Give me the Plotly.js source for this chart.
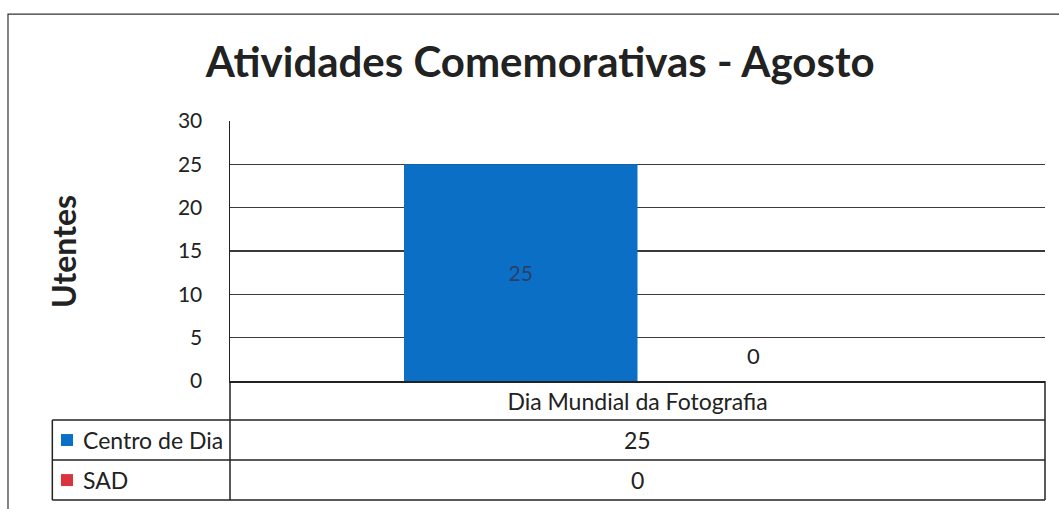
<!DOCTYPE html>
<html>
<head>
<meta charset="utf-8">
<script src="https://cdn.plot.ly/plotly-3.0.1.min.js"></script>
<style>html,body{margin:0;padding:0;background:#fff;}#chart{width:1059px;height:509px;}</style>
</head>
<body>
<div id="chart"></div>
<script>
const categories = ["Dia Mundial da Fotografia"];
const seriesNames = ["Centro de Dia", "SAD"];
const centroDeDia = [25];
const sad = [0];
const seriesColors = ["#0b6fc6", "#d8333f"];
const yTicks = [0, 5, 10, 15, 20, 25, 30];

const FONT = "Lato, 'Liberation Sans', sans-serif";
const seriesValues = [centroDeDia, sad];

const traces = [
  {
    type: "bar", name: seriesNames[0], x: categories, y: centroDeDia,
    marker: {color: seriesColors[0]},
    text: centroDeDia.map(String), textposition: "inside", insidetextanchor: "middle",
    textangle: 0,
    insidetextfont: {family: FONT, size: 21, color: "#2a3f66"},
    hoverinfo: "skip"
  },
  {
    type: "bar", name: seriesNames[1], x: categories, y: sad,
    marker: {color: seriesColors[1]},
    textposition: "none",
    hoverinfo: "skip"
  }
];

// table geometry (paper coordinates)
const rowY = [-0.15, -0.304, -0.458];
const tableLeft = -0.218;
const keyX0 = -0.2074, keyX1 = -0.1926, keyHalfH = 0.023;
const shapes = [
  // outer chart border (right and bottom edges fall outside the picture)
  {type: "rect", xref: "paper", yref: "paper", x0: -0.2724, x1: 1.06, y0: -0.56, y1: 1.411,
   line: {color: "#333", width: 1.2}, layer: "below"},
  // y axis extension through the table
  {type: "line", xref: "paper", yref: "paper", x0: 0, x1: 0, y0: rowY[2], y1: 0, line: {color: "#222", width: 1.5}},
  // right edge of table
  {type: "line", xref: "paper", yref: "paper", x0: 1, x1: 1, y0: rowY[2], y1: 0, line: {color: "#222", width: 1.5}},
  // left edge of legend column
  {type: "line", xref: "paper", yref: "paper", x0: tableLeft, x1: tableLeft, y0: rowY[2], y1: rowY[0], line: {color: "#222", width: 1.5}}
];
rowY.forEach(y => shapes.push({type: "line", xref: "paper", yref: "paper", x0: tableLeft, x1: 1, y0: y, y1: y,
  line: {color: "#222", width: 1.5}}));

const annotations = [
  {text: "Utentes", xref: "paper", yref: "paper", x: -0.205, y: 0.50, textangle: -90,
   showarrow: false, xanchor: "center", yanchor: "middle",
   font: {family: FONT, size: 32, color: "#222", weight: "bold"}},
  // outside-end data label of the SAD bar
  {text: String(sad[0]), xref: "x", yref: "y", x: categories[0], y: sad[0],
   xshift: 116, yshift: 26, showarrow: false, xanchor: "center", yanchor: "middle",
   font: {family: FONT, size: 22, color: "#222"}}
];
seriesNames.forEach((name, i) => {
  const yc = (rowY[i] + rowY[i + 1]) / 2;
  // legend key square
  shapes.push({type: "rect", xref: "paper", yref: "paper", x0: keyX0, x1: keyX1,
    y0: yc - keyHalfH, y1: yc + keyHalfH, fillcolor: seriesColors[i], line: {width: 0}});
  annotations.push({
    text: name,
    xref: "paper", yref: "paper", x: -0.1826, y: yc, xanchor: "left", yanchor: "middle",
    showarrow: false, font: {family: FONT, size: 23, color: "#222"}
  });
  categories.forEach((c, j) => {
    annotations.push({
      text: String(seriesValues[i][j]), xref: "x", yref: "paper", x: c, y: yc,
      xanchor: "center", yanchor: "middle", showarrow: false,
      font: {family: FONT, size: 23, color: "#222"}
    });
  });
});

const layout = {
  width: 1059, height: 509,
  margin: {l: 230, r: 14, t: 121, b: 128},
  paper_bgcolor: "#fff", plot_bgcolor: "#fff",
  showlegend: false,
  barmode: "group", bargap: 0.427, bargroupgap: 0,
  title: {text: "Atividades Comemorativas - Agosto", x: 0.51, xanchor: "center", y: 0.878, yanchor: "middle",
    font: {family: FONT, size: 42, color: "#222", weight: "bold"}},
  xaxis: {
    type: "category", showline: true, linecolor: "#222", linewidth: 1.5,
    ticks: "", ticklabelstandoff: 0,
    tickfont: {family: FONT, size: 23, color: "#222"}, fixedrange: true
  },
  yaxis: {
    range: [0, 30], tickvals: yTicks, ticktext: yTicks.map(String),
    showgrid: true, gridcolor: "#3a3a3a", gridwidth: 1.2,
    showline: true, linecolor: "#222", linewidth: 1.5,
    zeroline: false, ticks: "", ticklabelstandoff: 22,
    tickfont: {family: FONT, size: 21, color: "#222"}, fixedrange: true
  },
  shapes: shapes,
  annotations: annotations
};

Plotly.newPlot("chart", traces, layout, {displayModeBar: false, staticPlot: true});
</script>
</body>
</html>
